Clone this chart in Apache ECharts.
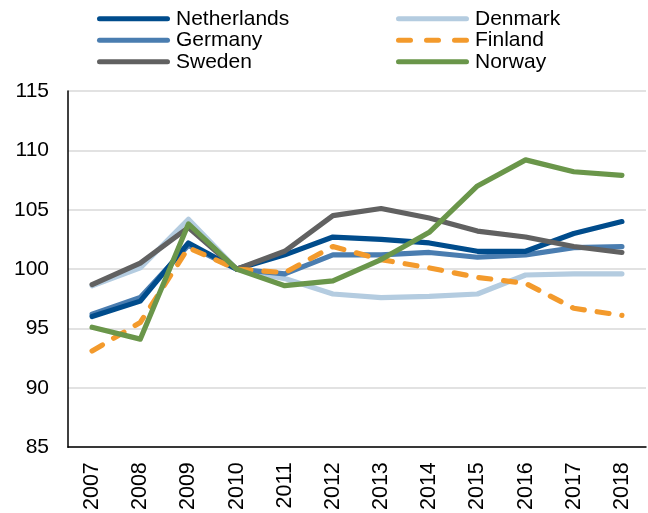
<!DOCTYPE html>
<html>
<head>
<meta charset="utf-8">
<script src="https://cdn.jsdelivr.net/npm/echarts@6/dist/echarts.min.js"></script>
<style>
  html, body { margin: 0; padding: 0; background: #fff; }
  #chart { width: 648px; height: 513px; }
</style>
</head>
<body>
<div id="chart"></div>
<script>
// Index values, 2010 = 100
const years = ['2007', '2008', '2009', '2010', '2011', '2012', '2013', '2014', '2015', '2016', '2017', '2018'];

const netherlands = [96.0, 97.3, 102.2, 100, 101.2, 102.7, 102.5, 102.2, 101.5, 101.5, 103.0, 104.0];
const denmark     = [98.6, 100.1, 104.2, 100, 99.2, 97.9, 97.6, 97.7, 97.9, 99.5, 99.6, 99.6];
const germany     = [96.2, 97.6, 102.0, 100, 99.6, 101.2, 101.2, 101.4, 101.0, 101.2, 101.8, 101.9];
const finland     = [93.1, 95.5, 101.8, 100, 99.7, 101.9, 100.8, 100.1, 99.3, 98.8, 96.7, 96.1];
const sweden      = [98.7, 100.5, 103.5, 100, 101.5, 104.5, 105.1, 104.3, 103.2, 102.7, 101.9, 101.4];
const norway      = [95.1, 94.1, 103.8, 100, 98.6, 99.0, 100.8, 103.1, 107.0, 109.2, 108.2, 107.9];

const yTicks = [85, 90, 95, 100, 105, 110, 115];

const COLORS = {
  netherlands: '#004C8C',
  denmark: '#B4CCE0',
  germany: '#4A7DB0',
  finland: '#F39A2C',
  sweden: '#616161',
  norway: '#6A964A',
};

const FONT = 'Liberation Sans, Arial, sans-serif';

// legend icons: a rounded bar, and three rounded dashes for Finland
const SOLID_ICON = 'path://M2.5,0H70.5A2.5,2.5,0,0,1,70.5,5H2.5A2.5,2.5,0,0,1,2.5,0Z';
const DASH_ICON = 'path://M2.5,0H14.5A2.5,2.5,0,0,1,14.5,5H2.5A2.5,2.5,0,0,1,2.5,0Z'
  + 'M30.5,0H42.5A2.5,2.5,0,0,1,42.5,5H30.5A2.5,2.5,0,0,1,30.5,0Z'
  + 'M58.5,0H70.5A2.5,2.5,0,0,1,70.5,5H58.5A2.5,2.5,0,0,1,58.5,0Z';

function lineSeries(name, data, color, z, dashed) {
  return {
    name: name,
    type: 'line',
    data: data,
    symbol: 'none',
    z: z,
    lineStyle: {
      color: color,
      width: 5.2,
      cap: 'round',
      join: 'round',
      type: dashed ? [12, 13] : 'solid',
    },
    itemStyle: { color: color },
  };
}

const legendCommon = {
  orient: 'vertical',
  top: 8,
  padding: 0,
  itemWidth: 73,
  itemHeight: 5,
  itemGap: 0,
  textStyle: { color: '#000', fontSize: 21, fontFamily: FONT, lineHeight: 21.5, padding: [0, 0, 0, 1] },
  selectedMode: false,
};

function legendItems(names) {
  return names.map(n => ({ name: n, icon: n === 'Finland' ? DASH_ICON : SOLID_ICON }));
}

const chart = echarts.init(document.getElementById('chart'), null, { renderer: 'canvas' });

chart.setOption({
  backgroundColor: '#fff',
  animation: false,
  legend: [
    Object.assign({}, legendCommon, { left: 97, data: legendItems(['Netherlands', 'Germany', 'Sweden']) }),
    Object.assign({}, legendCommon, { left: 396, data: legendItems(['Denmark', 'Finland', 'Norway']) }),
  ],
  grid: { left: 68, right: 2, top: 91, bottom: 61, containLabel: false },
  xAxis: {
    type: 'category',
    data: years,
    boundaryGap: true,
    axisLine: { lineStyle: { color: '#000', width: 1.5 } },
    axisTick: { show: false },
    axisLabel: { rotate: 90, margin: 15, color: '#000', fontSize: 21.5, fontFamily: FONT, interval: 0 },
  },
  yAxis: {
    type: 'value',
    min: yTicks[0],
    max: yTicks[yTicks.length - 1],
    interval: 5,
    axisLine: { show: true, lineStyle: { color: '#000', width: 1.5 } },
    axisTick: { show: false },
    axisLabel: { margin: 19, color: '#000', fontSize: 21, fontFamily: FONT },
    splitLine: { lineStyle: { color: '#D9D9D9', width: 1.5 } },
  },
  series: [
    lineSeries('Denmark', denmark, COLORS.denmark, 1),
    lineSeries('Germany', germany, COLORS.germany, 2),
    lineSeries('Netherlands', netherlands, COLORS.netherlands, 3),
    lineSeries('Sweden', sweden, COLORS.sweden, 4),
    lineSeries('Finland', finland, COLORS.finland, 5, true),
    lineSeries('Norway', norway, COLORS.norway, 6),
  ],
});
</script>
</body>
</html>
